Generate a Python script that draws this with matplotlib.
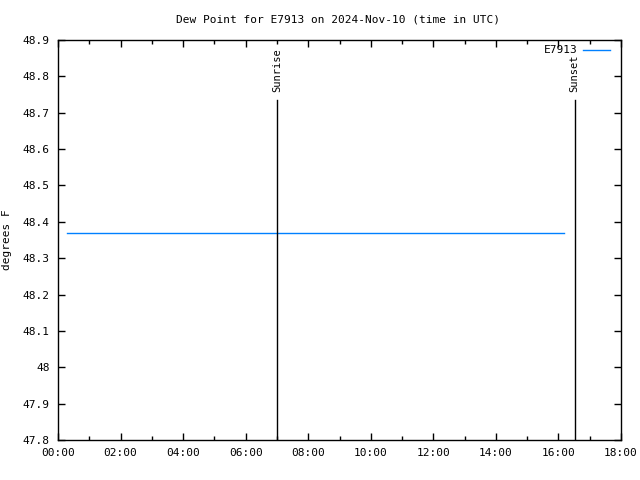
import matplotlib
matplotlib.use("Agg")
import matplotlib.pyplot as plt
from matplotlib.ticker import MultipleLocator, FuncFormatter

# Data
hours = [0.30, 16.17]
dewpoint = [48.37, 48.37]
series_name = "E7913"
sunrise_h = 7.0
sunset_h = 16.52
title = "Dew Point for E7913 on 2024-Nov-10 (time in UTC)"
ylabel = "degrees F"

plt.rcParams['font.family'] = ['DejaVu Sans Mono']
plt.rcParams['font.size'] = 8

fig = plt.figure(figsize=(6.4, 4.8), dpi=100)
ax = fig.add_axes([58/640, 1-440/480, (621-58)/640, 400/480])

ax.plot(hours, dewpoint, color='#0080ff', lw=1.0, label=series_name)

ax.set_xlim(0, 18)
ax.set_ylim(47.8, 48.9)

for h, name in [(sunrise_h, "Sunrise"), (sunset_h, "Sunset")]:
    ax.plot([h, h], [47.8, 48.735], color='black', lw=1.0)
    ax.text(h, 48.758, name, rotation=90, ha='center', va='bottom', fontsize=7.5)

ax.xaxis.set_major_locator(MultipleLocator(2))
ax.xaxis.set_minor_locator(MultipleLocator(1))
ax.xaxis.set_major_formatter(FuncFormatter(lambda v, p: "%02d:00" % int(round(v))))
ax.yaxis.set_major_locator(MultipleLocator(0.1))
ax.yaxis.set_major_formatter(FuncFormatter(lambda v, p: "%g" % round(v, 1)))

ax.tick_params(which='both', direction='in', top=True, right=True, width=1)
ax.tick_params(which='major', length=5, pad=6)
ax.tick_params(which='minor', length=3)

for s in ax.spines.values():
    s.set_linewidth(1.0)

fig.text(338/640, 1-20/480, title, ha='center', va='center', fontsize=8)
ax.set_ylabel(ylabel, labelpad=8)

leg = ax.legend(loc='upper right', frameon=False, markerfirst=False,
                bbox_to_anchor=(1 - 7/563, 1 - 1/400),
                handlelength=2.4, borderaxespad=0.0, handletextpad=0.5)

fig.savefig("out.png", dpi=100)
